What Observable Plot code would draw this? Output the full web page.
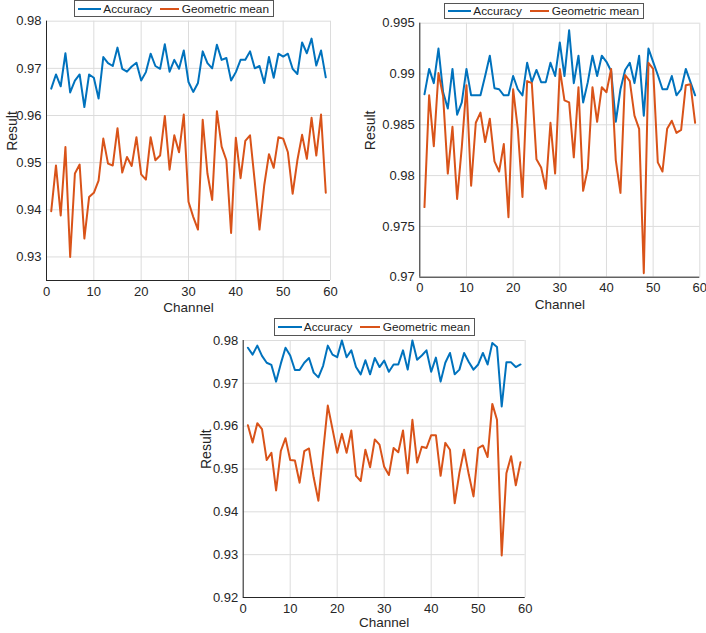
<!DOCTYPE html>
<html><head><meta charset="utf-8">
<script src="https://cdn.jsdelivr.net/npm/d3@7"></script>
<script src="https://cdn.jsdelivr.net/npm/@observablehq/plot@0.6"></script>
<style>
body{margin:0;background:#fff;font-family:"Liberation Sans",Arial,sans-serif;}
#wrap{position:relative;width:706px;height:633px;overflow:hidden;}
.panel{position:absolute;}
.legend{position:absolute;border:1px solid #555;background:#fff;font-size:11.8px;color:#222;display:flex;align-items:center;box-sizing:border-box;padding:0 4px 0 3px;white-space:nowrap;}
.sw{display:inline-block;height:2px;}
</style></head><body><div id="wrap"></div>
<script>
const channels = d3.range(1, 60);
const seriesNames = ["Accuracy", "Geometric mean"];
const seriesColors = ["#0072BD", "#D95319"];
const xTicks = [0, 10, 20, 30, 40, 50, 60];

const accuracy1 = [0.9657,0.9687,0.9662,0.9732,0.9649,0.9674,0.9687,0.9618,0.9687,0.968,
0.9636,0.9724,0.9711,0.9705,0.9744,0.9699,0.9693,0.9704,0.9712,0.9674,
0.9692,0.9731,0.9705,0.9699,0.9751,0.9693,0.9718,0.9699,0.9738,0.9671,
0.965,0.9669,0.9736,0.9711,0.970,0.975,0.9718,0.9722,0.9674,0.9692,
0.9718,0.9718,0.9736,0.970,0.9705,0.9669,0.9724,0.968,0.9731,0.9725,
0.9731,0.9699,0.9688,0.9755,0.9732,0.9763,0.9706,0.9738,0.9681];
const gmean1 = [0.9397,0.9494,0.9388,0.9533,0.930,0.9477,0.9496,0.9339,0.9427,0.9436,
0.9462,0.9551,0.9498,0.9494,0.9573,0.9479,0.9512,0.9493,0.9554,0.9475,
0.9464,0.9554,0.9505,0.9515,0.9599,0.9485,0.9558,0.9522,0.9602,0.9417,
0.9385,0.9358,0.9591,0.9477,0.9421,0.9609,0.9534,0.9505,0.9351,0.9553,
0.9467,0.9546,0.9558,0.9459,0.9358,0.9452,0.9518,0.9489,0.9554,0.9551,
0.9522,0.9434,0.9505,0.9559,0.9508,0.9595,0.9515,0.9602,0.9436];
const yTicks1 = [0.93, 0.94, 0.95, 0.96, 0.97, 0.98];

const accuracy2 = [0.988,0.9905,0.9891,0.9925,0.9882,0.9866,0.9905,0.986,0.9872,0.9905,
0.9879,0.9879,0.9879,0.9898,0.9918,0.9886,0.9885,0.9879,0.9879,0.9898,
0.9885,0.9879,0.9911,0.9892,0.9904,0.9892,0.9892,0.9911,0.9898,0.9931,
0.9898,0.9943,0.9891,0.9918,0.9872,0.9892,0.9918,0.9898,0.9918,0.9912,
0.9903,0.9853,0.9885,0.9904,0.9911,0.9891,0.9918,0.9859,0.9925,0.9912,
0.9899,0.9885,0.9885,0.9898,0.9879,0.9885,0.9905,0.9892,0.9879];
const gmean2 = [0.9769,0.9879,0.9829,0.9901,0.9878,0.9802,0.9848,0.9777,0.9828,0.9889,
0.979,0.9852,0.9862,0.9833,0.9856,0.9814,0.9804,0.9831,0.9759,0.9885,
0.9846,0.9779,0.9893,0.9891,0.9816,0.9808,0.9787,0.9852,0.9802,0.9905,
0.9874,0.9872,0.9818,0.9887,0.9785,0.9807,0.9887,0.9853,0.9887,0.9882,
0.9905,0.9815,0.9783,0.9899,0.9893,0.9859,0.9846,0.9704,0.9911,0.9905,
0.9813,0.9804,0.9846,0.9854,0.9842,0.9845,0.9889,0.989,0.9852];
const yTicks2 = [0.97, 0.975, 0.98, 0.985, 0.99, 0.995];

const accuracy3 = [0.9783,0.9767,0.9788,0.9764,0.9748,0.9743,0.9704,0.9746,0.9783,0.9765,
0.9731,0.9731,0.9748,0.9759,0.9725,0.9714,0.9741,0.9788,0.9767,0.9761,
0.98,0.9761,0.9777,0.9738,0.9721,0.9754,0.9721,0.9759,0.9738,0.9753,
0.9727,0.9744,0.9744,0.9777,0.9732,0.98,0.9755,0.9765,0.9777,0.9727,
0.976,0.9704,0.9748,0.9771,0.9721,0.9732,0.9771,0.975,0.9732,0.9744,
0.9771,0.9744,0.9794,0.9785,0.9646,0.9749,0.9749,0.9738,0.9744];
const gmean3 = [0.9602,0.9562,0.9607,0.9593,0.9521,0.9538,0.945,0.9542,0.9572,0.9521,
0.952,0.9468,0.9542,0.9548,0.948,0.9426,0.954,0.9648,0.9593,0.9538,
0.9582,0.9538,0.959,0.9484,0.9472,0.9545,0.9504,0.9569,0.9557,0.9505,
0.9486,0.9549,0.9539,0.959,0.949,0.9615,0.9515,0.9552,0.9549,0.9579,
0.9579,0.9484,0.9561,0.9545,0.942,0.9491,0.9545,0.9487,0.9436,0.9549,
0.9555,0.9528,0.9652,0.9615,0.9298,0.949,0.953,0.9462,0.9516];
const yTicks3 = [0.92, 0.93, 0.94, 0.95, 0.96, 0.97, 0.98];

const wrap = document.getElementById("wrap");
const fmt = d => String(+d.toFixed(3));

function panel(cfg) {
  const rows = [];
  cfg.series.forEach((vals, si) => vals.forEach((v, i) => rows.push({channel: channels[i], value: v, series: seriesNames[si]})));
  const chart = Plot.plot({
    width: cfg.width, height: cfg.height,
    marginLeft: cfg.ml, marginRight: cfg.mr, marginTop: cfg.mt, marginBottom: cfg.mb,
    style: {fontFamily: '"Liberation Sans", Arial, sans-serif', fontSize: "13px", color: "#262626", background: "transparent", overflow: "visible"},
    x: {domain: [0, 60], label: null},
    y: {domain: cfg.ydomain, label: null},
    color: {domain: seriesNames, range: seriesColors},
    marks: [
      Plot.gridX(xTicks, {stroke: "#dcdcdc", strokeOpacity: 1}),
      Plot.gridY(cfg.yticks, {stroke: "#dcdcdc", strokeOpacity: 1}),
      Plot.axisX({ticks: xTicks, tickSize: 0, tickPadding: 6, tickFormat: d => d, label: null}),
      Plot.axisY({ticks: cfg.yticks, tickSize: 0, tickPadding: 5, tickFormat: fmt, label: null}),
      Plot.text(["Channel"], {text: d => d, frameAnchor: "bottom", lineAnchor: "top", dy: cfg.xlo, fontSize: 13.5, fill: "#262626"}),
      Plot.text(["Result"], {text: d => d, frameAnchor: "left", rotate: -90, dx: -cfg.ylo, fontSize: 14, fill: "#262626"}),
      Plot.ruleX([0], {stroke: "#262626", strokeWidth: 1}),
      Plot.ruleY([cfg.ydomain[0]], {stroke: "#262626", strokeWidth: 1}),
      Plot.line(rows, {x: "channel", y: "value", z: "series", stroke: "series", strokeWidth: 2})
    ]
  });
  chart.classList.add("panel");
  chart.style.left = cfg.left + "px";
  chart.style.top = cfg.top + "px";
  wrap.appendChild(chart);

  const lg = document.createElement("div");
  lg.className = "legend";
  lg.style.left = cfg.lg[0] + "px"; lg.style.top = cfg.lg[1] + "px";
  lg.style.width = cfg.lg[2] + "px"; lg.style.height = cfg.lg[3] + "px";
  const sw = [27, 22], gaps = [[2, 8], [3, 0]];
  seriesNames.forEach((name, i) => {
    const s = document.createElement("span");
    s.className = "sw"; s.style.width = sw[i] + "px"; s.style.background = seriesColors[i];
    s.style.marginRight = gaps[i][0] + "px";
    const t = document.createElement("span");
    t.textContent = name; t.style.marginRight = gaps[i][1] + "px";
    lg.appendChild(s); lg.appendChild(t);
  });
  wrap.appendChild(lg);
}

panel({series: [accuracy1, gmean1], ydomain: [0.925, 0.98], yticks: yTicks1,
  left: 0, top: 0, width: 340, height: 320, ml: 46, mr: 10, mt: 20.7, mb: 40, xlo: 22, ylo: 34,
  lg: [74, 0, 200, 17]});
panel({series: [accuracy2, gmean2], ydomain: [0.97, 0.995], yticks: yTicks2,
  left: 360, top: 0, width: 346, height: 320, ml: 59.3, mr: 6.7, mt: 22.7, mb: 43.3, xlo: 22, ylo: 49,
  lg: [444, 3, 200, 16]});
panel({series: [accuracy3, gmean3], ydomain: [0.92, 0.98], yticks: yTicks3,
  left: 200, top: 320, width: 340, height: 313, ml: 42.7, mr: 15.3, mt: 20, mb: 36, xlo: 20, ylo: 37,
  lg: [274, 318, 201, 18]});
</script></body></html>
